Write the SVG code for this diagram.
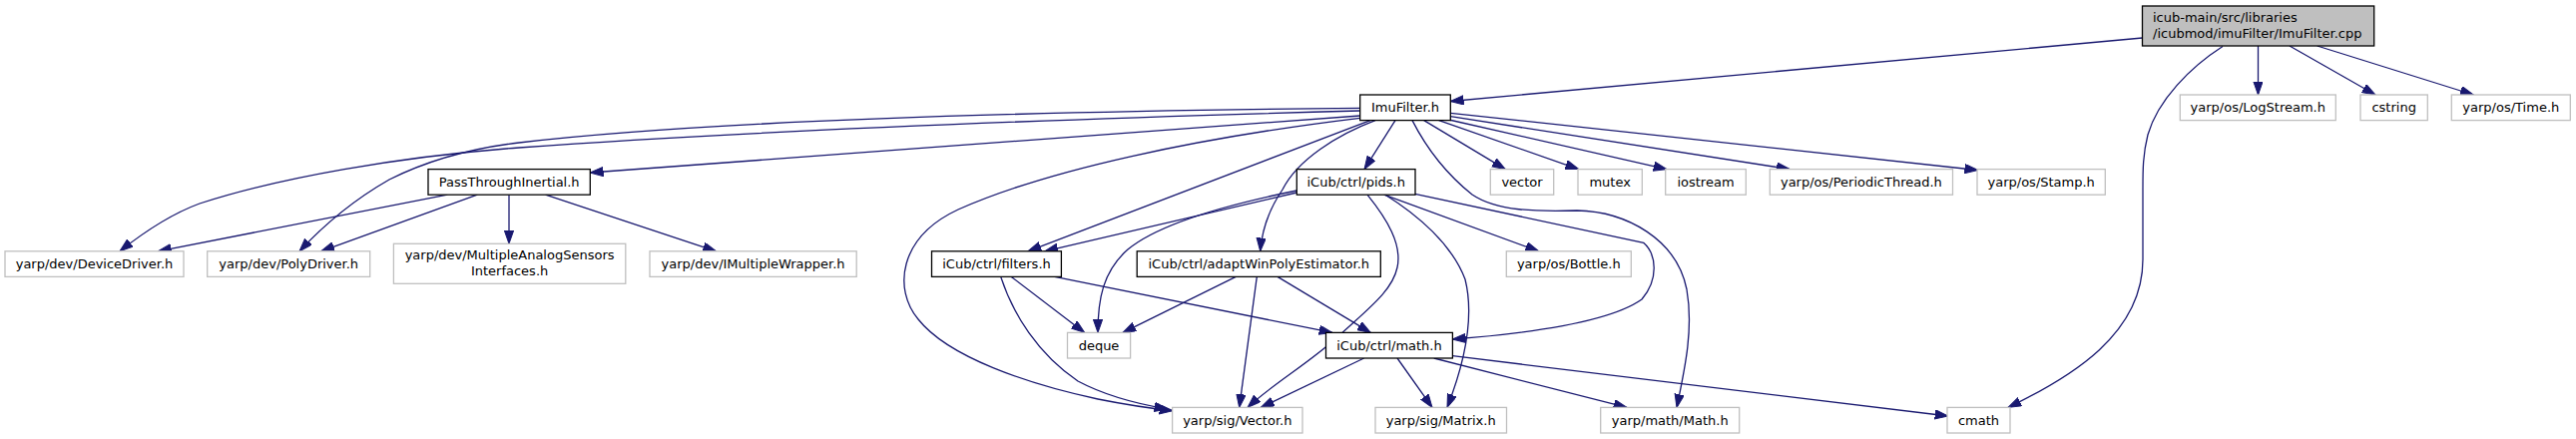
<svg xmlns="http://www.w3.org/2000/svg" width="2581" height="440" viewBox="0 0 2581 440">
<style>
.n rect{fill:#ffffff;stroke:#000000;stroke-width:1.3}
.u rect{fill:#ffffff;stroke:#bfbfbf;stroke-width:1.3}
.m rect{fill:#bfbfbf;stroke:#000000;stroke-width:1.3}
text{font-family:"DejaVu Sans","Liberation Sans",sans-serif;font-size:13px;fill:#000000}
.c{text-anchor:middle}
#edges path{fill:none;stroke:#191970;stroke-width:1.3;marker-end:url(#arr)}
</style>
<defs>
<marker id="arr" markerUnits="userSpaceOnUse" markerWidth="14" markerHeight="10" refX="13.3" refY="4.67" orient="auto">
<path d="M0,0 L13.3,4.67 L0,9.33 Z" fill="#191970" stroke="#191970" stroke-width="1"/>
</marker>
</defs>
<rect x="0" y="0" width="2581" height="440" fill="#ffffff"/>
<g id="edges">
<path d="M2146.5,38 L1453.3,101.5"/>
<path d="M2227,46.5 C2195,67 2162,100 2152,135 C2147,155 2147,170 2147,190 L2147,260 C2147,335 2075,378 2012,408.4"/>
<path d="M2262.5,46 L2262.5,95"/>
<path d="M2294,46 L2380,95"/>
<path d="M2321.7,46 L2478.3,95"/>
<path d="M1362.7,116 L591.3,173"/>
<path d="M1362.7,111 C1000,121 700,135 520,148 C400,157 280,178 200,204 C170,215 145,232 120,251.8"/>
<path d="M1362.7,108.3 C1000,112 700,122 520,143 C460,150 420,165 390,180 C355,200 325,225 300,251.8"/>
<path d="M1398,120.6 L1367,169.6"/>
<path d="M1373,120.6 L1030,251.8"/>
<path d="M1378,120.6 C1340,135 1300,160 1285,190 C1268,215 1264,235 1262.7,251.8"/>
<path d="M1362.7,118.3 C1200,138 1050,170 960,210 C900,238 895,290 920,320 C950,358 1030,385 1100,400 C1130,406 1150,409 1175,411.7"/>
<path d="M1426.7,120.6 L1508.3,169.6"/>
<path d="M1441.7,120.6 L1581.7,169.6"/>
<path d="M1451.7,120 L1670,169.6"/>
<path d="M1453.3,116.7 L1793.3,169.6"/>
<path d="M1453.3,113.3 L1981.7,170.5"/>
<path d="M1415,120.6 C1430,150 1450,175 1475,195 C1500,212 1540,212 1580,211 C1630,212 1680,240 1690,290 C1697,330 1688,370 1680,408.4"/>
<path d="M448.3,195.2 L158.3,251.8"/>
<path d="M478.3,195.2 L321.7,251.8"/>
<path d="M510,195.2 L510,244.3"/>
<path d="M546.5,195.2 L717.5,251.8"/>
<path d="M1299.3,193 L1046.7,251.8"/>
<path d="M1299.3,191 C1230,205 1160,225 1130,250 C1105,272 1100,300 1100,333.4"/>
<path d="M1370,195.2 C1390,220 1405,245 1400,268 C1395,292 1370,310 1340,338 C1310,365 1275,385 1250,408.4"/>
<path d="M1388,195.2 C1420,215 1455,245 1468,280 C1478,320 1465,370 1450,408.4"/>
<path d="M1386.7,195.2 L1541.7,251.8"/>
<path d="M1417.7,194.3 L1646.7,243.3 C1660,255 1662,280 1645,300 C1610,325 1520,335 1455.4,340"/>
<path d="M1013.3,277.4 L1086.7,333.4"/>
<path d="M1002.7,277.4 C1015,315 1040,355 1080,382 C1110,398 1140,405 1170,410"/>
<path d="M1056.7,277.4 L1335,333.4"/>
<path d="M1238.3,277.4 L1125,333.4"/>
<path d="M1259.3,277.4 L1241.7,408.4"/>
<path d="M1280,277.4 L1373.3,333.4"/>
<path d="M1366.7,359 L1263.3,408.4"/>
<path d="M1400,359 L1435,408.4"/>
<path d="M1436.7,359 L1630,408.4"/>
<path d="M1455.4,356.7 L1952,417"/>
</g>
<g id="node-main" class="m"><rect x="2146.5" y="6" width="232.2" height="40"/><text x="2157" y="21.5">icub-main/src/libraries</text><text x="2157" y="37.5">/icubmod/imuFilter/ImuFilter.cpp</text></g>
<g id="node-imufilter" class="n"><rect x="1362.7" y="95" width="90.6" height="25.6"/><text class="c" x="1408" y="112.3">ImuFilter.h</text></g>
<g id="node-logstream" class="u"><rect x="2184.3" y="95" width="156" height="25.6"/><text class="c" x="2262.3" y="112.3">yarp/os/LogStream.h</text></g>
<g id="node-cstring" class="u"><rect x="2365" y="95" width="67.3" height="25.6"/><text class="c" x="2398.7" y="112.3">cstring</text></g>
<g id="node-time" class="u"><rect x="2456.3" y="95" width="119" height="25.6"/><text class="c" x="2515.8" y="112.3">yarp/os/Time.h</text></g>
<g id="node-passthrough" class="n"><rect x="429" y="169.6" width="162.3" height="25.6"/><text class="c" x="510.2" y="186.9">PassThroughInertial.h</text></g>
<g id="node-pids" class="n"><rect x="1299.3" y="169.6" width="118.7" height="25.6"/><text class="c" x="1358.7" y="186.9">iCub/ctrl/pids.h</text></g>
<g id="node-vector" class="u"><rect x="1493.3" y="169.6" width="63.4" height="25.6"/><text class="c" x="1525" y="186.9">vector</text></g>
<g id="node-mutex" class="u"><rect x="1581" y="169.6" width="64.3" height="25.6"/><text class="c" x="1613.2" y="186.9">mutex</text></g>
<g id="node-iostream" class="u"><rect x="1668.7" y="169.6" width="80.6" height="25.6"/><text class="c" x="1709" y="186.9">iostream</text></g>
<g id="node-periodicthread" class="u"><rect x="1773.3" y="169.6" width="183.2" height="25.6"/><text class="c" x="1864.9" y="186.9">yarp/os/PeriodicThread.h</text></g>
<g id="node-stamp" class="u"><rect x="1981" y="169.6" width="128.3" height="25.6"/><text class="c" x="2045.2" y="186.9">yarp/os/Stamp.h</text></g>
<g id="node-devicedriver" class="u"><rect x="5" y="251.8" width="179" height="25.6"/><text class="c" x="94.5" y="269.1">yarp/dev/DeviceDriver.h</text></g>
<g id="node-polydriver" class="u"><rect x="207.7" y="251.8" width="163" height="25.6"/><text class="c" x="289.2" y="269.1">yarp/dev/PolyDriver.h</text></g>
<g id="node-multianalog" class="u"><rect x="394.4" y="244.3" width="232.4" height="40"/><text class="c" x="510.6" y="260">yarp/dev/MultipleAnalogSensors</text><text class="c" x="510.6" y="276">Interfaces.h</text></g>
<g id="node-imultiplewrapper" class="u"><rect x="651" y="251.8" width="207.2" height="25.6"/><text class="c" x="754.6" y="269.1">yarp/dev/IMultipleWrapper.h</text></g>
<g id="node-filters" class="n"><rect x="933.5" y="251.8" width="129.9" height="25.6"/><text class="c" x="998.5" y="269.1">iCub/ctrl/filters.h</text></g>
<g id="node-adaptwin" class="n"><rect x="1139.2" y="251.8" width="244.1" height="25.6"/><text class="c" x="1261.3" y="269.1">iCub/ctrl/adaptWinPolyEstimator.h</text></g>
<g id="node-bottle" class="u"><rect x="1509.3" y="251.8" width="125" height="25.6"/><text class="c" x="1571.8" y="269.1">yarp/os/Bottle.h</text></g>
<g id="node-deque" class="u"><rect x="1069.5" y="333.4" width="63.1" height="25.6"/><text class="c" x="1101" y="350.7">deque</text></g>
<g id="node-ctrlmath" class="n"><rect x="1328.5" y="333.4" width="126.9" height="25.6"/><text class="c" x="1392" y="350.7">iCub/ctrl/math.h</text></g>
<g id="node-sigvector" class="u"><rect x="1174.6" y="408.4" width="130.4" height="25.6"/><text class="c" x="1239.8" y="425.7">yarp/sig/Vector.h</text></g>
<g id="node-matrix" class="u"><rect x="1378" y="408.4" width="131.5" height="25.6"/><text class="c" x="1443.7" y="425.7">yarp/sig/Matrix.h</text></g>
<g id="node-yarpmath" class="u"><rect x="1603.7" y="408.4" width="139" height="25.6"/><text class="c" x="1673.2" y="425.7">yarp/math/Math.h</text></g>
<g id="node-cmath" class="u"><rect x="1951" y="408.4" width="63" height="25.6"/><text class="c" x="1982.5" y="425.7">cmath</text></g>
</svg>
